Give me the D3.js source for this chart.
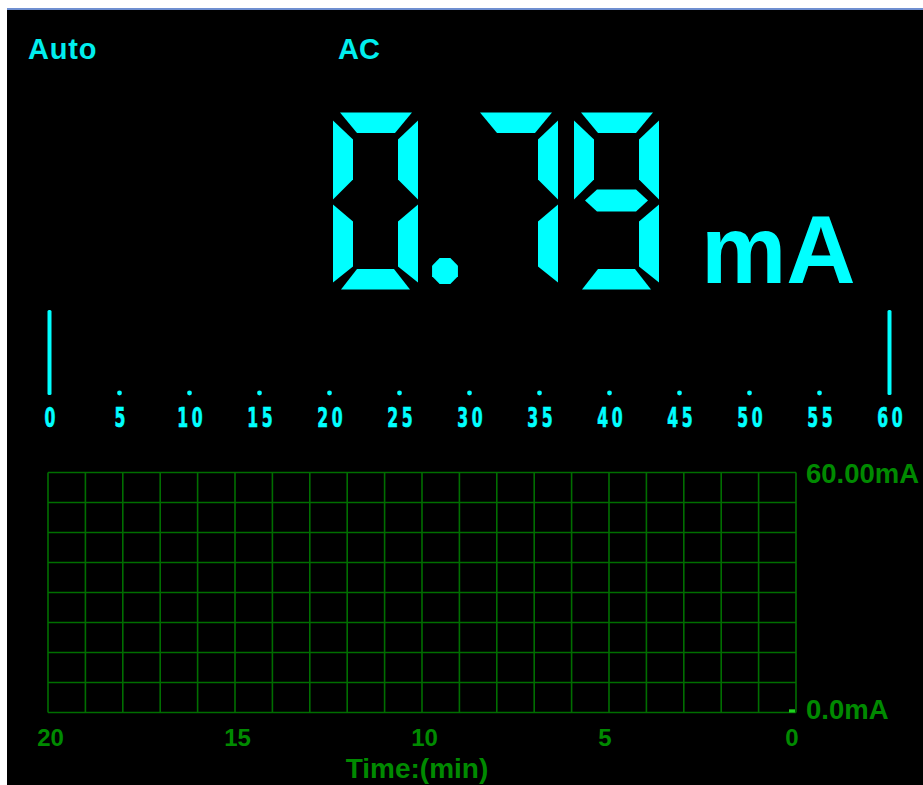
<!DOCTYPE html>
<html>
<head>
<meta charset="utf-8">
<script src="https://cdn.jsdelivr.net/npm/d3@7"></script>
<style>
  html, body { margin: 0; padding: 0; background: #fff; overflow: hidden; }
</style>
</head>
<body>
<div id="meter"></div>
<script>
// values
const rangeMode = "Auto";
const couplingMode = "AC";
const reading = "0.79";
const readingUnit = "mA";

const barScaleDomain = [0, 60];
const barScaleTicks = [0, 5, 10, 15, 20, 25, 30, 35, 40, 45, 50, 55, 60];
const barScaleEnds = [0, 60];

const trendMinutes = [20, 15, 10, 5, 0];
const trendRange = [0, 60];
const trendRangeLabels = ["0.0mA", "60.00mA"];
const trendTitle = "Time:(min)";
const trendTimes = [0];
const trendValues = [0.79];

const width = 923, height = 785;
const cyan = "#00ffff";
const green = "#008a00";
const gridGreen = "#006e00";

const svg = d3.select("#meter").append("svg")
  .attr("width", width)
  .attr("height", height)
  .attr("viewBox", [0, 0, width, height]);

// window frame + black screen
svg.append("rect").attr("width", width).attr("height", height).attr("fill", "#fff");
svg.append("rect").attr("x", 7).attr("y", 8).attr("width", width - 7).attr("height", 2).attr("fill", "#6f8fd0");
svg.append("rect").attr("x", 7).attr("y", 10).attr("width", width - 7).attr("height", height - 10).attr("fill", "#000");

const boldSans = "'Liberation Sans', Arial, sans-serif";

svg.append("text").attr("x", 28).attr("y", 58.5)
  .attr("font-family", boldSans).attr("font-weight", "bold").attr("font-size", 29)
  .attr("letter-spacing", 0.8).attr("fill", "#00eeee").text(rangeMode);

svg.append("text").attr("x", 338).attr("y", 58.5)
  .attr("font-family", boldSans).attr("font-weight", "bold").attr("font-size", 29)
  .attr("fill", "#00eeee").text(couplingMode);

// seven segment reading
const segs = {
  a: [[7, 0], [79, 0], [62, 20.5], [24, 20.5]],
  b: [[85, 8], [85, 87], [65, 67], [65, 27]],
  c: [[85, 92], [85, 170], [65, 154], [65, 109]],
  d: [[24, 156.5], [61, 156.5], [77, 177], [8, 177]],
  e: [[0, 92], [20, 109], [20, 154], [0, 170]],
  f: [[0, 8], [20, 27], [20, 67], [0, 87]],
  g: [[11, 88], [23, 77], [62, 77], [74, 88], [62, 99], [23, 99]]
};
const digitSegs = {
  "0": "abcdef", "1": "bc", "2": "abdeg", "3": "abcdg", "4": "bcfg",
  "5": "acdfg", "6": "acdefg", "7": "abc", "8": "abcdefg", "9": "abcdfg"
};

const big = svg.append("g").attr("fill", cyan);
let cursor = 333;
const digitTop = 112.5;
for (const ch of reading) {
  if (ch === ".") {
    const cx = cursor + 11, cy = digitTop + 158.5, r = 14;
    const oct = d3.range(8).map(i => {
      const a = Math.PI / 8 + i * Math.PI / 4;
      return [cx + r * Math.cos(a), cy + r * Math.sin(a)];
    });
    big.append("polygon").attr("points", oct.map(p => p.join(",")).join(" "));
    cursor += 39;
    continue;
  }
  const g = big.append("g").attr("transform", `translate(${cursor},${digitTop})`);
  for (const s of digitSegs[ch]) {
    g.append("polygon").attr("points", segs[s].map(p => p.join(",")).join(" "));
  }
  cursor += 101;
}

svg.append("text").attr("x", 701).attr("y", 283)
  .attr("font-family", boldSans).attr("font-weight", "bold").attr("font-size", 96)
  .attr("fill", cyan).text(readingUnit);

// bar graph scale 0..60
const bx = d3.scaleLinear().domain(barScaleDomain).range([49.5, 889.5]);

svg.append("g").selectAll("rect")
  .data(barScaleEnds)
  .join("rect")
  .attr("x", d => bx(d) - 2)
  .attr("y", 310)
  .attr("width", 4)
  .attr("height", 85)
  .attr("rx", 1.5)
  .attr("fill", cyan);

svg.append("g").selectAll("circle")
  .data(barScaleTicks.filter(d => !barScaleEnds.includes(d)))
  .join("circle")
  .attr("cx", d => bx(d))
  .attr("cy", 393)
  .attr("r", 2.4)
  .attr("fill", cyan);

const barAxis = svg.append("g")
  .attr("transform", "translate(0,408)")
  .call(d3.axisBottom(bx).tickValues(barScaleTicks).tickSize(0).tickPadding(0));
barAxis.select(".domain").remove();
barAxis.selectAll("text")
  .attr("y", 19)
  .attr("dy", 0)
  .attr("fill", cyan)
  .attr("stroke", cyan)
  .attr("stroke-width", 0.7)
  .attr("font-family", "'DejaVu Sans', sans-serif")
  .attr("font-weight", "bold")
  .attr("font-size", 26)
  .attr("letter-spacing", 6)
  .attr("dx", 3)
  .attr("transform", "scale(0.6,1)");

// trend chart
const tx = d3.scaleLinear().domain([trendMinutes[0], trendMinutes[trendMinutes.length - 1]]).range([48, 796]);
const ty = d3.scaleLinear().domain(trendRange).range([712.5, 472.5]);

const grid = svg.append("g").attr("stroke", gridGreen).attr("stroke-width", 1.6);
grid.selectAll("line.v")
  .data(d3.range(0, 21))
  .join("line")
  .attr("class", "v")
  .attr("x1", d => tx(d)).attr("x2", d => tx(d))
  .attr("y1", ty(trendRange[0])).attr("y2", ty(trendRange[1]));
grid.selectAll("line.h")
  .data(d3.range(0, 9).map(i => trendRange[0] + i * (trendRange[1] - trendRange[0]) / 8))
  .join("line")
  .attr("class", "h")
  .attr("x1", tx(20)).attr("x2", tx(0))
  .attr("y1", d => ty(d)).attr("y2", d => ty(d));

// logged samples
svg.append("g").selectAll("rect")
  .data(trendTimes.map((t, i) => ({t, v: trendValues[i]})))
  .join("rect")
  .attr("x", d => tx(d.t) - 7)
  .attr("y", d => ty(d.v))
  .attr("width", 6)
  .attr("height", d => ty(0) - ty(d.v))
  .attr("fill", "#1ed21e");

const timeAxis = svg.append("g")
  .attr("transform", `translate(0,${ty(0)})`)
  .call(d3.axisBottom(tx).tickValues(trendMinutes).tickSize(0).tickPadding(0));
timeAxis.select(".domain").remove();
timeAxis.selectAll("text")
  .attr("y", 33)
  .attr("dy", 0)
  .attr("dx", d => (d === 5 || d === 0) ? -4.5 : 2)
  .attr("fill", green)
  .attr("font-family", boldSans)
  .attr("font-weight", "bold")
  .attr("font-size", 24);

svg.append("text").attr("x", 417).attr("y", 778).attr("text-anchor", "middle")
  .attr("font-family", boldSans).attr("font-weight", "bold").attr("font-size", 28)
  .attr("fill", green).text(trendTitle);

svg.append("g").selectAll("text")
  .data(trendRange)
  .join("text")
  .attr("x", 806)
  .attr("y", (d, i) => ty(d) + (i === 0 ? 6.5 : 10.5))
  .attr("font-family", boldSans)
  .attr("font-weight", "bold")
  .attr("font-size", 27.5)
  .attr("fill", green)
  .text((d, i) => trendRangeLabels[i]);
</script>
</body>
</html>
